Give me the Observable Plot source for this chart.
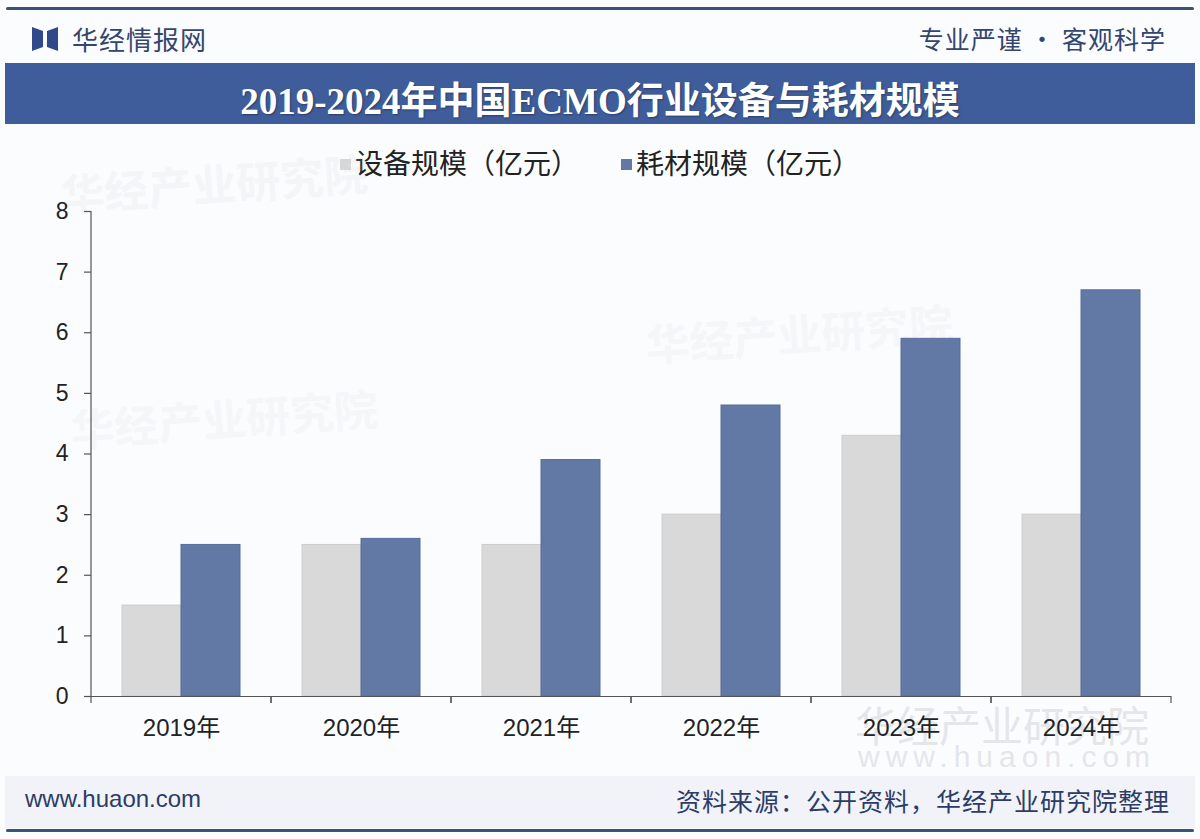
<!DOCTYPE html>
<html>
<head>
<meta charset="utf-8">
<script src="https://cdn.jsdelivr.net/npm/d3@7"></script>
<script src="https://cdn.jsdelivr.net/npm/@observablehq/plot@0.6"></script>
<style>
  html, body { margin: 0; padding: 0; background: #fbfcfe; }
  body { width: 1200px; height: 839px; position: relative; overflow: hidden;
         font-family: "Liberation Sans", "Noto Sans CJK SC", sans-serif; }
  .abs { position: absolute; }
  .topline { left: 6px; right: 6px; top: 7px; height: 3px; background: #3c5177; border-radius: 2px; }
  .botline { left: 6px; right: 6px; top: 829px; height: 3px; background: #3c5177; border-radius: 2px; }
  .brand { left: 72px; top: 20px; font-size: 26px; color: #34466e; font-family: "Noto Sans CJK SC", sans-serif; letter-spacing: 1px; }
  .slogan { right: 34px; top: 20px; font-size: 25px; color: #34466e; font-family: "Noto Sans CJK SC", sans-serif; letter-spacing: 1px; }
  .logo { left: 32px; top: 27px; width: 26px; height: 24px; }
  .titlebar { left: 5px; right: 5px; top: 63px; height: 61px; background: #3f5d9a; }
  .title { left: 0; right: 0; top: 71px; text-align: center; color: #fff; font-size: 37px; font-weight: bold;
           font-family: "Liberation Serif", "Noto Sans CJK SC", serif; text-shadow: 1px 1px 2px rgba(0,0,0,0.35); }
  .legend { left: 0; right: 0; top: 142px; text-align: center; font-size: 28px; color: #222;
            font-family: "Noto Sans CJK SC", sans-serif; }
  .legend span.item { display: inline-block; margin: 0 21px; }
  .legend span.sw { display: inline-block; width: 11px; height: 11px; margin-right: 4px; vertical-align: 4px; }
  .footerbg { left: 5px; right: 5px; top: 776px; height: 52px; background: #f1f3f8; }
  .site { left: 25px; top: 785px; font-size: 24px; color: #2d3c66; }
  .source { right: 30px; top: 782px; font-size: 25px; color: #2d3c66; font-family: "Noto Sans CJK SC", sans-serif; letter-spacing: 1px; }
  .wm { color: #c9ccd3; font-family: "Noto Sans CJK SC", sans-serif; font-weight: bold; pointer-events: none; white-space: nowrap; }
  #chart { left: 0; top: 180px; }
</style>
</head>
<body>
<div class="abs topline"></div>
<svg class="abs logo" viewBox="0 0 26 24"><path d="M0 0 L11 4 L11 20 L0 24 Z" fill="#2f4a8a"/><path d="M26 0 L15 4 L15 20 L26 24 Z" fill="#2f4a8a"/></svg>
<div class="abs brand">华经情报网</div>
<div class="abs slogan">专业严谨 • 客观科学</div>
<div class="abs titlebar"></div>
<div class="abs title">2019-2024年中国ECMO行业设备与耗材规模</div>
<div class="abs legend" id="legend"></div>
<div class="abs wm" style="left:60px; top:150px; font-size:44px; opacity:0.14; transform: rotate(-4deg);">华经产业研究院</div>
<div class="abs wm" style="left:70px; top:385px; font-size:44px; opacity:0.12; transform: rotate(-4deg);">华经产业研究院</div>
<div class="abs wm" style="left:645px; top:300px; font-size:44px; opacity:0.12; transform: rotate(-4deg);">华经产业研究院</div>
<div class="abs wm" style="left:855px; top:693px; font-size:42px; opacity:0.45; font-weight:normal;">华经产业研究院</div>
<div class="abs wm" style="left:858px; top:740px; font-size:30px; opacity:0.45; font-weight:normal; font-family:'Liberation Sans',sans-serif; letter-spacing:6px;">www.huaon.com</div>
<div class="abs" id="chart"></div>
<div class="abs footerbg"></div>
<div class="abs site">www.huaon.com</div>
<div class="abs source">资料来源：公开资料，华经产业研究院整理</div>
<div class="abs botline"></div>
<script>
const years = ["2019年", "2020年", "2021年", "2022年", "2023年", "2024年"];
const seriesNames = ["设备规模（亿元）", "耗材规模（亿元）"];
const equipment = [1.5, 2.5, 2.5, 3.0, 4.3, 3.0];
const consumables = [2.5, 2.6, 3.9, 4.8, 5.9, 6.7];
const yTicks = [0, 1, 2, 3, 4, 5, 6, 7, 8];
const colors = ["#d9d9d9", "#6279a5"];

const data = [];
years.forEach((yr, i) => {
  data.push({year: yr, series: seriesNames[0], value: equipment[i]});
  data.push({year: yr, series: seriesNames[1], value: consumables[i]});
});

// legend
const legend = document.getElementById("legend");
seriesNames.forEach((s, i) => {
  const item = document.createElement("span");
  item.className = "item";
  item.innerHTML = `<span class="sw" style="background:${colors[i]}"></span>${s}`;
  legend.appendChild(item);
});

function bandInfo(scales) {
  const fx = scales.fx;
  const bw = typeof fx.bandwidth === "function" ? fx.bandwidth() : fx.bandwidth;
  return {left: fx(years[0]), bw};
}

// category boundary ticks, drawn in every facet from Plot's fx and y scales
function boundaryTicks(index, scales) {
  const g = d3.create("svg:g").attr("stroke", "#555").attr("stroke-width", 1.2);
  if (!scales.fx || !scales.y) return g.node();
  const {left, bw} = bandInfo(scales);
  const y0 = scales.y(0);
  [left, left + bw].forEach(x => g.append("line").attr("x1", x).attr("x2", x).attr("y1", y0).attr("y2", y0 + 7));
  return g.node();
}

// vertical y-axis line, only in the first facet
function yAxisLine(index, scales) {
  const g = d3.create("svg:g").attr("stroke", "#555").attr("stroke-width", 1.2);
  if (!scales.fx || !scales.y) return g.node();
  const {left} = bandInfo(scales);
  g.append("line").attr("x1", left).attr("x2", left)
    .attr("y1", scales.y(yTicks[0])).attr("y2", scales.y(yTicks[yTicks.length - 1]));
  return g.node();
}

const plot = Plot.plot({
  width: 1200,
  height: 576,
  marginLeft: 91,
  marginRight: 29,
  marginTop: 31,
  marginBottom: 60,
  style: {background: "transparent", fontFamily: "'Liberation Sans', 'Noto Sans CJK SC', sans-serif", color: "#222"},
  fx: {domain: years, padding: 0, label: null, axis: null},
  x: {domain: seriesNames, paddingInner: 0, paddingOuter: 0.525, axis: null},
  y: {domain: [0, 8], ticks: yTicks, axis: null},
  color: {domain: seriesNames, range: colors},
  marks: [
    Plot.barY(data, {fx: "year", x: "series", y: "value", fill: "series", stroke: d => d.series === seriesNames[0] ? "#cdcdcd" : "#566d9b", strokeWidth: 1}),
    Plot.ruleY([0], {stroke: "#555", strokeWidth: 1.2}),
    Plot.axisY(yTicks, {tickSize: 7, tickPadding: 16, fontSize: 23, stroke: "#555", strokeWidth: 1.2, fill: "#222", label: null, tickFormat: d => String(d)}),
    Plot.axisFx({anchor: "bottom", tickSize: 0, tickPadding: 22, fontSize: 24, fill: "#222", label: null}),
    Plot.ruleY([years[0]], {fx: d => d, y: () => 0, render: yAxisLine}),
    boundaryTicks
  ]
});
document.getElementById("chart").appendChild(plot);
</script>
</body>
</html>
